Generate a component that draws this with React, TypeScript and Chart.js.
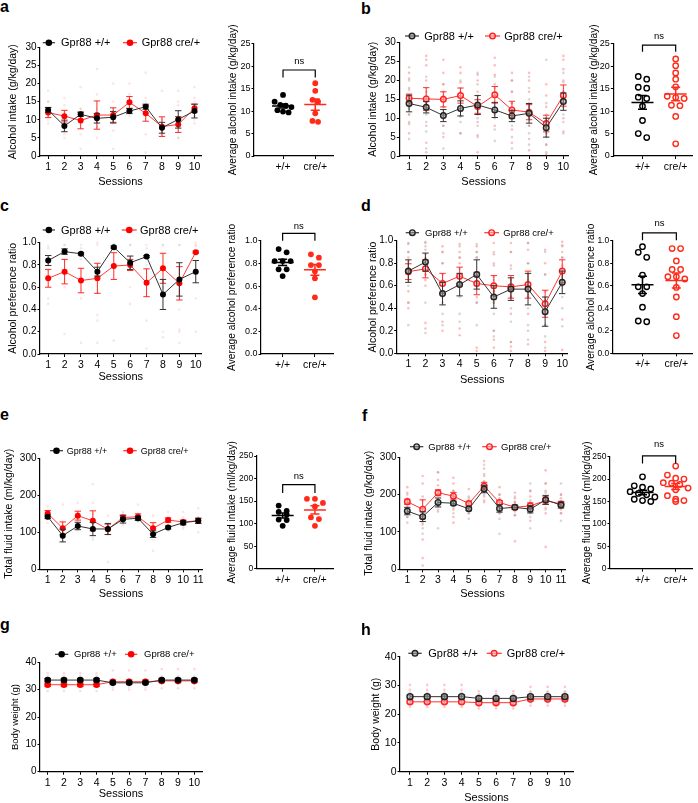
import React, { useEffect, useRef } from "react";
import { Chart, registerables } from "chart.js";

Chart.register(...registerables);

const FONT = "'Liberation Sans', Arial, Helvetica, sans-serif";

// ---------------- DATA ----------------
const sessions10 = [1, 2, 3, 4, 5, 6, 7, 8, 9, 10];
const sessions11 = [1, 2, 3, 4, 5, 6, 7, 8, 9, 10, 11];
const groupLabels = ["+/+", "cre/+"];
const seriesLabels = ["Gpr88 +/+", "Gpr88 cre/+"];

// a
const aWtMean = [12.7, 8.3, 11.5, 10.4, 10.7, 12.4, 13.6, 7.8, 10.1, 12.4];
const aWtSem = [0.7, 1.6, 0.6, 1.3, 1.6, 0.7, 0.7, 1.5, 2.4, 1.9];
const aCreMean = [12.0, 11.0, 9.8, 11.3, 11.3, 14.8, 11.8, 8.1, 8.7, 13.2];
const aCreSem = [1.4, 1.6, 2.3, 3.9, 2.0, 1.6, 2.2, 2.7, 2.2, 1.1];
const aWtInd = [[15, 11, 10], [12, 7, 5], [13, 11], [13, 9, 8], [13, 9], [14, 11], [15, 13, 12], [10, 6], [15, 8, 5], [15, 11, 10]];
const aCreInd = [[18, 15, 9], [16, 14, 9, 6], [19, 13, 6, 2], [24, 17, 8, 5], [20, 15, 7, 2], [20, 17, 12], [23, 16, 6, 1], [18, 10, 6], [18, 14, 5], [19, 16, 11, 9]];
const aWtAvg = [13.6, 12.1, 11.4, 11.2, 10.9, 10.2, 9.9, 9.7];
const aCreAvg = [16.2, 14.5, 12.5, 12.1, 9.5, 7.8, 7.6];

// b
const bWtMean = [13.9, 12.9, 10.7, 12.6, 13.5, 12.2, 10.6, 11.3, 7.5, 14.4];
const bWtSem = [2.2, 1.5, 1.6, 2.0, 2.5, 2.0, 1.5, 2.6, 2.5, 2.3];
const bCreMean = [15.3, 15.1, 15.0, 16.0, 13.1, 16.2, 12.2, 11.6, 8.6, 16.0];
const bCreSem = [1.1, 3.0, 2.0, 2.0, 1.8, 2.2, 2.3, 2.0, 2.2, 2.8];
const bWtInd = [
  [23.5, 20, 17.5, 16, 14, 12.5, 11, 9, 4.5], [21, 18, 16, 14, 12.5, 11, 9, 6.5, 2], [19, 16, 13, 11.5, 10, 8, 6, 2],
  [20, 18, 16, 14, 12, 10.5, 9, 6], [22, 19, 16, 14, 12, 10, 8, 5], [21, 18, 16, 14, 12, 10, 7, 4],
  [20, 17, 14, 12, 10, 8, 5, 2], [21, 18, 15, 12, 10, 8, 6, 3], [25.5, 14, 11, 9, 7, 5, 3, 1], [22, 19.5, 17, 15, 13, 11, 9, 6],
];
const bCreInd = [
  [22, 20.5, 18, 16, 15, 13, 11, 8.5, 6], [26.5, 25.5, 24, 20, 17, 15, 12, 8, 3.5, 1], [25.5, 22, 19, 17, 15, 13, 11, 8, 5],
  [23.5, 22, 19.5, 17, 15, 13, 10.5, 6], [21.5, 20, 17, 15, 13, 11, 9, 5.5, 1], [26, 24, 21.5, 19, 16, 13, 11, 8],
  [22, 20, 17, 14, 12, 10, 7, 3.5], [22, 20, 17, 14, 11, 8, 4.5, 1.5], [19, 16, 13, 10, 8, 6, 3, 0.5], [26.5, 25.5, 23, 20, 17, 14, 10, 6.5],
];
const bWtAvg = [17.7, 17.1, 15.3, 15.1, 13.1, 12.8, 11.1, 7.9, 5.0, 4.1];
const bCreAvg = [21.6, 20.1, 18.5, 17.1, 15.4, 13.3, 13.0, 12.8, 11.3, 11.2, 8.8, 2.7];

// c
const cWtMean = [0.84, 0.92, 0.9, 0.74, 0.96, 0.82, 0.875, 0.535, 0.67, 0.74];
const cWtSem = [0.045, 0.025, 0.01, 0.04, 0.01, 0.06, 0.01, 0.135, 0.15, 0.1];
const cCreMean = [0.68, 0.74, 0.66, 0.68, 0.79, 0.8, 0.64, 0.77, 0.635, 0.915];
const cCreSem = [0.08, 0.11, 0.11, 0.135, 0.12, 0.05, 0.125, 0.135, 0.15, 0.01];
const cWtInd = [[0.97, 0.75], [0.98, 0.85], [0.98, 0.85], [0.98, 0.55], [0.99, 0.95], [0.98, 0.6], [0.98, 0.8], [0.98, 0.2], [0.98, 0.4], [0.98, 0.5]];
const cCreInd = [[0.95, 0.45, 0.5], [0.98, 0.18, 0.6], [0.95, 0.1, 0.5], [1.0, 0.35, 0.3, 0.1], [0.98, 0.12], [0.98, 0.45], [0.95, 0.3, 0.05], [0.98, 0.6, 0.15], [0.98, 0.2, 0.22, 0.1], [1.0, 0.97, 0.2]];
const cWtAvg = [0.926, 0.897, 0.82, 0.82, 0.82, 0.747, 0.747, 0.688];
const cCreAvg = [0.88, 0.85, 0.785, 0.785, 0.73, 0.668, 0.5];

// d
const dWtMean = [0.73, 0.81, 0.53, 0.61, 0.7, 0.5, 0.57, 0.57, 0.37, 0.63];
const dWtSem = [0.1, 0.08, 0.1, 0.1, 0.13, 0.1, 0.1, 0.14, 0.13, 0.1];
const dCreMean = [0.725, 0.75, 0.62, 0.685, 0.62, 0.6, 0.59, 0.61, 0.44, 0.73];
const dCreSem = [0.07, 0.08, 0.09, 0.08, 0.1, 0.09, 0.1, 0.12, 0.12, 0.1];
const dWtInd = [
  [0.97, 0.9, 0.82, 0.75, 0.6, 0.45, 0.25], [0.99, 0.95, 0.88, 0.82, 0.7, 0.45, 0.18], [0.9, 0.8, 0.65, 0.55, 0.45, 0.35, 0.25],
  [0.95, 0.85, 0.7, 0.6, 0.5, 0.35, 0.28], [0.97, 0.9, 0.85, 0.7, 0.6, 0.45, 0.25], [0.9, 0.8, 0.65, 0.45, 0.35, 0.2, 0.15],
  [0.9, 0.75, 0.6, 0.5, 0.4, 0.28, 0.1], [0.98, 0.8, 0.65, 0.55, 0.4, 0.25, 0.12], [0.9, 0.7, 0.5, 0.35, 0.25, 0.15, 0.05],
  [0.95, 0.85, 0.75, 0.6, 0.5, 0.4, 0.24],
];
const dCreInd = [
  [0.98, 0.9, 0.85, 0.8, 0.65, 0.55, 0.45, 0.4], [0.98, 0.92, 0.85, 0.7, 0.65, 0.6, 0.27, 0.22], [0.95, 0.9, 0.8, 0.7, 0.55, 0.5, 0.28, 0.2],
  [0.97, 0.9, 0.85, 0.8, 0.75, 0.6, 0.22, 0.16], [0.95, 0.9, 0.85, 0.7, 0.5, 0.45, 0.05, 0.02], [0.98, 0.88, 0.78, 0.68, 0.55, 0.45, 0.2, 0.12, 0.05],
  [0.98, 0.9, 0.78, 0.65, 0.5, 0.35, 0.1, 0.06, 0.02], [0.98, 0.92, 0.8, 0.7, 0.5, 0.35, 0.2, 0.08], [0.92, 0.8, 0.7, 0.55, 0.4, 0.25, 0.1, 0.02],
  [0.99, 0.96, 0.9, 0.85, 0.78, 0.6, 0.3, 0.03],
];
const dWtAvg = [0.947, 0.897, 0.852, 0.695, 0.59, 0.59, 0.53, 0.41, 0.28, 0.287];
const dCreAvg = [0.93, 0.93, 0.82, 0.745, 0.745, 0.68, 0.68, 0.66, 0.585, 0.5, 0.325, 0.157];

// e
const eWtMean = [142, 91, 117, 109, 109, 135, 138, 95, 113, 126, 131];
const eWtSem = [5, 17, 10, 18, 15, 10, 6, 9, 4, 6, 7];
const eCreMean = [151, 111, 145, 131, 108, 140, 142, 111, 133, 128, 131];
const eCreSem = [8, 17, 12, 27, 14, 7, 8, 15, 6, 5, 7];
const eWtInd = [[150, 135], [110, 75], [130, 105], [140, 80], [120, 95], [150, 125], [150, 130], [110, 80], [120, 105], [135, 115], [140, 125]];
const eCreInd = [[170, 140, 125], [175, 130, 95], [180, 155, 130], [230, 180, 150, 85], [145, 115, 95, 20], [155, 130, 120], [175, 150, 130], [145, 110, 90, 50], [155, 140, 120], [155, 140, 120, 110], [165, 140, 100]];
const eWtAvg = [140, 128, 126, 120, 109, 108, 95];
const eCreAvg = [155, 155, 146, 138, 114, 110, 95];

// f
const fWtMean = [156, 141, 179, 177, 162, 215, 163, 166, 161, 186, 172];
const fWtSem = [10, 13, 12, 5, 5, 10, 10, 6, 10, 12, 8];
const fCreMean = [181, 161, 205, 196, 176, 223, 179, 166, 170, 184, 175];
const fCreSem = [7, 25, 8, 10, 5, 10, 5, 5, 8, 10, 7];
const fWtInd = [
  [200, 180, 165, 150, 140, 125], [185, 160, 140, 125, 110, 95], [260, 200, 185, 170, 160, 110], [210, 190, 175, 165, 150],
  [190, 175, 160, 150, 135], [280, 255, 235, 215, 200, 185], [200, 180, 165, 150, 135, 95], [195, 180, 170, 160, 145],
  [230, 210, 185, 160, 140, 110], [230, 205, 190, 175, 160], [230, 200, 180, 165, 150, 130],
];
const fCreInd = [
  [220, 205, 190, 180, 170, 160, 150, 140], [250, 230, 195, 165, 120, 80, 30, 10], [260, 240, 225, 210, 200, 185, 170, 155],
  [245, 230, 210, 195, 180, 160, 140, 125], [215, 195, 185, 175, 165, 150], [290, 270, 250, 235, 220, 210, 195, 180],
  [220, 200, 190, 180, 170, 160, 150], [205, 190, 180, 165, 155, 145, 75], [210, 195, 180, 170, 160, 150, 130],
  [265, 230, 210, 195, 180, 165, 150, 60], [200, 190, 180, 170, 160, 150],
];
const fWtAvg = [205, 185, 182, 178, 172, 168, 165, 160, 155, 152, 150];
const fCreAvg = [229, 209, 202, 200, 192, 191, 188, 180, 176, 163, 155, 152, 150];

// g
const gWtMean = [33.5, 33.5, 33.5, 33.5, 32.5, 32.5, 32.5, 33.5, 33.5, 33.5];
const gWtSem = [0.6, 0.6, 0.6, 0.6, 0.5, 0.5, 0.5, 0.6, 0.6, 0.6];
const gCreMean = [31.8, 31.8, 31.8, 31.8, 32.9, 32.9, 32.9, 33.2, 33.2, 33.2];
const gCreSem = [0.6, 0.6, 0.6, 0.6, 0.6, 0.6, 0.6, 0.6, 0.6, 0.6];
const gWtInd = [[35, 31.5], [35, 31.5], [35, 31.5], [35, 31.5], [34, 31], [34, 31], [34, 31], [35, 32], [35, 32], [35, 32]];
const gCreInd = [[36, 29.5], [36, 29.5], [36, 29.5], [36, 29.5], [37, 30], [37, 30], [37, 30], [37.5, 30.5], [37.5, 30.5], [37.5, 30.5]];

// h
const hWtMean = [26.1, 26.1, 26.1, 26.1, 25.5, 25.5, 25.5, 26.1, 26.1, 26.1];
const hWtSem = [0.6, 0.6, 0.6, 0.6, 0.6, 0.6, 0.6, 0.6, 0.6, 0.6];
const hCreMean = [24.3, 24.3, 24.3, 24.3, 24.0, 24.0, 24.0, 25.3, 25.3, 25.3];
const hCreSem = [0.6, 0.6, 0.6, 0.6, 0.6, 0.6, 0.6, 0.6, 0.6, 0.6];
const hWtInd = [[27.5, 23.5], [27.5, 23.5], [27.5, 23.5], [27.5, 23.5], [27, 23], [27, 23], [27, 23], [28, 24], [28, 24], [28, 24]];
const hCreInd = [[30.2, 28.5, 22.5], [30.2, 28.5, 22.5], [30.2, 28.5, 22.5], [30.2, 28.5, 22.5], [28, 26, 22], [28, 26, 22], [28, 26, 22], [29.5, 27.5, 23], [29.5, 27.5, 23], [29.5, 27.5, 23]];

// ---------------- HELPERS ----------------
type Rect = { L: number; T: number; R: number; B: number };
type Geo = { x: number; y: number; w: number; h: number; wy: number; padTop: number; padRight: number; hx: number };

function geom(r: Rect, leftX: number, bottomY: number, topPad = 22, rightPad = 10): Geo {
  const x = Math.floor(leftX);
  const y = Math.floor(r.T - topPad);
  const x2 = Math.min(698, Math.ceil(r.R + rightPad));
  const y2 = Math.ceil(bottomY);
  return { x, y, w: x2 - x, h: y2 - y, wy: r.L - x, padTop: r.T - y, padRight: x2 - r.R, hx: y2 - r.B };
}

const errorBarPlugin = {
  id: "errorBars",
  beforeDatasetDraw(chart: any, args: any) {
    const ds = chart.data.datasets[args.index];
    if (!ds.err) return;
    const ctx = chart.ctx;
    const ys = chart.scales.y;
    const cap = ds.cap || 3.2;
    ctx.save();
    ctx.strokeStyle = ds.errColor;
    ctx.lineWidth = 1;
    args.meta.data.forEach((pt: any, i: number) => {
      const v = ds.data[i].y;
      const e = ds.err[i];
      const yt = ys.getPixelForValue(v + e);
      const yb = ys.getPixelForValue(v - e);
      ctx.beginPath();
      ctx.moveTo(pt.x, yt); ctx.lineTo(pt.x, yb);
      ctx.moveTo(pt.x - cap, yt); ctx.lineTo(pt.x + cap, yt);
      ctx.moveTo(pt.x - cap, yb); ctx.lineTo(pt.x + cap, yb);
      ctx.stroke();
    });
    ctx.restore();
  },
};

function legendPlugin(o: any) {
  return {
    id: "gLegend",
    afterDraw(chart: any) {
      const ctx = chart.ctx;
      ctx.save();
      o.items.forEach((it: any) => {
        const x0 = it.x0 - o.ox, x1 = it.x1 - o.ox, y = o.y - o.oy;
        const cx = (x0 + x1) / 2;
        ctx.strokeStyle = it.line; ctx.lineWidth = 1.2;
        ctx.beginPath(); ctx.moveTo(x0, y); ctx.lineTo(x1, y); ctx.stroke();
        ctx.beginPath(); ctx.arc(cx, y, o.r, 0, Math.PI * 2);
        if (o.open) {
          ctx.fillStyle = it.fill; ctx.fill();
          ctx.lineWidth = 1.4; ctx.strokeStyle = it.color; ctx.stroke();
        } else {
          ctx.fillStyle = it.color; ctx.fill();
        }
        ctx.fillStyle = "#000";
        ctx.font = `${o.font}px ${FONT}`;
        ctx.textBaseline = "middle"; ctx.textAlign = "left";
        ctx.fillText(it.label, it.tx - o.ox, y + 0.5);
      });
      ctx.restore();
    },
  };
}

function meanSemPlugin(groups: { center: number; values: number[]; color: string }[]) {
  return {
    id: "meanSem",
    afterDatasetsDraw(chart: any) {
      const { ctx, scales } = chart;
      ctx.save();
      ctx.lineWidth = 1.5;
      groups.forEach((g) => {
        const n = g.values.length;
        const m = g.values.reduce((a, b) => a + b, 0) / n;
        const sd = Math.sqrt(g.values.reduce((a, b) => a + (b - m) * (b - m), 0) / (n - 1));
        const se = sd / Math.sqrt(n);
        const cx = scales.x.getPixelForValue(g.center);
        const ym = scales.y.getPixelForValue(m);
        const yt = scales.y.getPixelForValue(m + se);
        const yb = scales.y.getPixelForValue(m - se);
        ctx.strokeStyle = g.color;
        ctx.beginPath();
        ctx.moveTo(cx - 11, ym); ctx.lineTo(cx + 11, ym);
        ctx.moveTo(cx, yt); ctx.lineTo(cx, yb);
        ctx.moveTo(cx - 4.5, yt); ctx.lineTo(cx + 4.5, yt);
        ctx.moveTo(cx - 4.5, yb); ctx.lineTo(cx + 4.5, yb);
        ctx.stroke();
      });
      ctx.restore();
    },
  };
}

function bracketPlugin(b: { top: number; leg: number; ns: number }) {
  return {
    id: "bracket",
    afterDraw(chart: any) {
      const { ctx, scales } = chart;
      const x1 = scales.x.getPixelForValue(1), x2 = scales.x.getPixelForValue(2);
      const yt = scales.y.getPixelForValue(b.top), yl = scales.y.getPixelForValue(b.leg);
      const yn = scales.y.getPixelForValue(b.ns);
      ctx.save();
      ctx.strokeStyle = "#000"; ctx.lineWidth = 1.2;
      ctx.beginPath();
      ctx.moveTo(x1, yl); ctx.lineTo(x1, yt); ctx.lineTo(x2, yt); ctx.lineTo(x2, yl);
      ctx.stroke();
      ctx.fillStyle = "#000"; ctx.font = `9.5px ${FONT}`;
      ctx.textAlign = "center"; ctx.textBaseline = "middle";
      ctx.fillText("ns", (x1 + x2) / 2, yn);
      ctx.restore();
    },
  };
}

function swarm(values: number[], center: number, pxX: number, pxY: number, bin: number, spacing: number) {
  const sorted = [...values].sort((a, b) => b - a);
  const rows: number[][] = [];
  let cur: number[] = [];
  let start = 0;
  sorted.forEach((v) => {
    if (cur.length && (start - v) * pxY < bin) cur.push(v);
    else { if (cur.length) rows.push(cur); cur = [v]; start = v; }
  });
  if (cur.length) rows.push(cur);
  const out: { x: number; y: number }[] = [];
  rows.forEach((row) => row.forEach((v, k) => out.push({ x: center + ((k - (row.length - 1) / 2) * spacing) / pxX, y: v })));
  return out;
}

function yScale(g: Geo, yMax: number, step: number, dec: number, title: string, titleSize: number, tickSize: number) {
  return {
    type: "linear", min: 0, max: yMax,
    afterFit: (s: any) => { s.width = g.wy; },
    afterBuildTicks: (s: any) => {
      const t: any[] = [];
      for (let i = 0; i * step <= yMax + 1e-9; i++) t.push({ value: +(i * step).toFixed(6) });
      s.ticks = t;
    },
    ticks: { color: "#000", font: { family: FONT, size: tickSize }, padding: 1, callback: (v: number) => Number(v).toFixed(dec) },
    grid: { drawOnChartArea: false, drawTicks: true, tickLength: 2.5, color: "#000", lineWidth: 1 },
    border: { display: true, color: "#000", width: 1.2 },
    title: { display: true, text: title, color: "#000", font: { family: FONT, size: titleSize }, padding: 0 },
  };
}

// ---------------- PANEL SPECS ----------------
type LineSpec = {
  rect: Rect; yTitleX: number; xTitleY: number; xMin: number; xMax: number; sessions: number[];
  yMax: number; yStep: number; dec: number; yTitle: string; titleSize: number; tickSize: number;
  wtMean: number[]; wtSem: number[]; creMean: number[]; creSem: number[];
  wtInd: number[][]; creInd: number[][]; indAlpha: number; open: boolean; markerR: number;
  legend: { y: number; font: number; items: number[][] };
};

type ScatSpec = {
  rect: Rect; yTitleX: number; xMin: number; xMax: number; yMax: number; yStep: number; dec: number;
  yTitle: string; titleSize: number; tickSize: number; wt: number[]; cre: number[]; open: boolean;
  r: number; spacing: number; bracket: { top: number; leg: number; ns: number };
};

const X_TICK = 10.5;

const lineSpecs: LineSpec[] = [
  {
    rect: { L: 40, T: 47.3, R: 201, B: 156 }, yTitleX: 14, xTitleY: 181.7, xMin: 0.5, xMax: 10.4, sessions: sessions10,
    yMax: 30, yStep: 5, dec: 0, yTitle: "Alcohol intake (g/kg/day)", titleSize: 10.5, tickSize: 10,
    wtMean: aWtMean, wtSem: aWtSem, creMean: aCreMean, creSem: aCreSem, wtInd: aWtInd, creInd: aCreInd, indAlpha: 0.15,
    open: false, markerR: 3, legend: { y: 42.7, font: 11, items: [[42.7, 55, 61], [123, 137, 141.7]] },
  },
  {
    rect: { L: 399.3, T: 42.7, R: 568, B: 156 }, yTitleX: 373.3, xTitleY: 181.7, xMin: 0.43, xMax: 10.27, sessions: sessions10,
    yMax: 30, yStep: 5, dec: 0, yTitle: "Alcohol intake (g/kg/day)", titleSize: 10.5, tickSize: 10,
    wtMean: bWtMean, wtSem: bWtSem, creMean: bCreMean, creSem: bCreSem, wtInd: bWtInd, creInd: bCreInd, indAlpha: 0.35,
    open: true, markerR: 2.8, legend: { y: 36, font: 11, items: [[405, 419, 424.3], [485, 500, 504.3]] },
  },
  {
    rect: { L: 40, T: 242.7, R: 201.5, B: 354 }, yTitleX: 13.3, xTitleY: 376.7, xMin: 0.5, xMax: 10.35, sessions: sessions10,
    yMax: 1, yStep: 0.2, dec: 1, yTitle: "Alcohol preference ratio", titleSize: 10.5, tickSize: 10,
    wtMean: cWtMean, wtSem: cWtSem, creMean: cCreMean, creSem: cCreSem, wtInd: cWtInd, creInd: cCreInd, indAlpha: 0.15,
    open: false, markerR: 3, legend: { y: 230, font: 11, items: [[42.7, 55, 61], [121.7, 136.7, 140]] },
  },
  {
    rect: { L: 396.7, T: 240.7, R: 567.7, B: 353.3 }, yTitleX: 373.3, xTitleY: 380, xMin: 0.32, xMax: 10.32, sessions: sessions10,
    yMax: 1, yStep: 0.2, dec: 1, yTitle: "Alcohol preference ratio", titleSize: 10.5, tickSize: 10,
    wtMean: dWtMean, wtSem: dWtSem, creMean: dCreMean, creSem: dCreSem, wtInd: dWtInd, creInd: dCreInd, indAlpha: 0.35,
    open: true, markerR: 2.8, legend: { y: 232.7, font: 9.5, items: [[405.7, 419, 425], [484.3, 499, 503.3]] },
  },
  {
    rect: { L: 40, T: 458.3, R: 202, B: 569.3 }, yTitleX: 10, xTitleY: 594, xMin: 0.49, xMax: 11.25, sessions: sessions11,
    yMax: 300, yStep: 100, dec: 0, yTitle: "Total fluid intake (ml/kg/day)", titleSize: 10.5, tickSize: 10,
    wtMean: eWtMean, wtSem: eWtSem, creMean: eCreMean, creSem: eCreSem, wtInd: eWtInd, creInd: eCreInd, indAlpha: 0.15,
    open: false, markerR: 3, legend: { y: 450.7, font: 9, items: [[50, 63, 66.7], [123.3, 136.7, 140.7]] },
  },
  {
    rect: { L: 400, T: 457.3, R: 565, B: 569.3 }, yTitleX: 370, xTitleY: 594, xMin: 0.525, xMax: 11.26, sessions: sessions11,
    yMax: 300, yStep: 100, dec: 0, yTitle: "Total fluid intake (g/kg/day)", titleSize: 10.5, tickSize: 10,
    wtMean: fWtMean, wtSem: fWtSem, creMean: fCreMean, creSem: fCreSem, wtInd: fWtInd, creInd: fCreInd, indAlpha: 0.35,
    open: true, markerR: 2.8, legend: { y: 446.7, font: 9.5, items: [[410, 423.3, 428.3], [482.3, 496.7, 501]] },
  },
  {
    rect: { L: 40, T: 662.3, R: 202, B: 771.7 }, yTitleX: 16, xTitleY: 794, xMin: 0.53, xMax: 10.47, sessions: sessions10,
    yMax: 40, yStep: 10, dec: 0, yTitle: "Body weight (g)", titleSize: 9.5, tickSize: 10,
    wtMean: gWtMean, wtSem: gWtSem, creMean: gCreMean, creSem: gCreSem, wtInd: gWtInd, creInd: gCreInd, indAlpha: 0.2,
    open: false, markerR: 3.3, legend: { y: 654.3, font: 9.5, items: [[55, 68.3, 74], [125, 137.3, 144]] },
  },
  {
    rect: { L: 400, T: 656.7, R: 573, B: 771.7 }, yTitleX: 376.7, xTitleY: 798.3, xMin: 0.42, xMax: 10.47, sessions: sessions10,
    yMax: 40, yStep: 10, dec: 0, yTitle: "Body weight (g)", titleSize: 10.5, tickSize: 10.5,
    wtMean: hWtMean, wtSem: hWtSem, creMean: hCreMean, creSem: hCreSem, wtInd: hWtInd, creInd: hCreInd, indAlpha: 0.3,
    open: true, markerR: 3, legend: { y: 653.3, font: 11, items: [[408.3, 421.7, 428.3], [486.7, 501.7, 506.7]] },
  },
];

const scatSpecs: ScatSpec[] = [
  {
    rect: { L: 254, T: 43.7, R: 333, B: 156 }, yTitleX: 234, xMin: 0.1, xMax: 2.55, yMax: 25, yStep: 5, dec: 0,
    yTitle: "Average alcohol intake (g/kg/day)", titleSize: 10.2, tickSize: 9, wt: aWtAvg, cre: aCreAvg, open: false,
    r: 2.9, spacing: 5.6, bracket: { top: 19.15, leg: 17.5, ns: 21 },
  },
  {
    rect: { L: 613.3, T: 43.7, R: 693, B: 156 }, yTitleX: 594.5, xMin: 0.12, xMax: 2.51, yMax: 25, yStep: 5, dec: 0,
    yTitle: "Average alcohol intake (g/kg/day)", titleSize: 10.2, tickSize: 9, wt: bWtAvg, cre: bCreAvg, open: true,
    r: 2.7, spacing: 8.5, bracket: { top: 24.7, leg: 23.2, ns: 26.7 },
  },
  {
    rect: { L: 261, T: 240.7, R: 333, B: 354 }, yTitleX: 233, xMin: 0.33, xMax: 2.56, yMax: 1, yStep: 0.2, dec: 1,
    yTitle: "Average alcohol preference ratio", titleSize: 10.2, tickSize: 9, wt: cWtAvg, cre: cCreAvg, open: false,
    r: 2.9, spacing: 8, bracket: { top: 1.065, leg: 1.0, ns: 1.13 },
  },
  {
    rect: { L: 612.7, T: 240.7, R: 693, B: 353.3 }, yTitleX: 592, xMin: 0.12, xMax: 2.48, yMax: 1, yStep: 0.2, dec: 1,
    yTitle: "Average alcohol preference ratio", titleSize: 10.2, tickSize: 8.5, wt: dWtAvg, cre: dCreAvg, open: true,
    r: 2.7, spacing: 8.5, bracket: { top: 1.07, leg: 1.005, ns: 1.15 },
  },
  {
    rect: { L: 256.7, T: 456, R: 333, B: 568.7 }, yTitleX: 233, xMin: 0.195, xMax: 2.56, yMax: 250, yStep: 50, dec: 0,
    yTitle: "Average fluid intake (ml/kg/day)", titleSize: 10.2, tickSize: 8.5, wt: eWtAvg, cre: eCreAvg, open: false,
    r: 2.9, spacing: 8, bracket: { top: 186.4, leg: 168, ns: 204.8 },
  },
  {
    rect: { L: 610, T: 456.7, R: 693, B: 568.7 }, yTitleX: 587.5, xMin: 0.02, xMax: 2.51, yMax: 250, yStep: 50, dec: 0,
    yTitle: "Average fluid intake (ml/kg/day)", titleSize: 10.2, tickSize: 8.5, wt: fWtAvg, cre: fCreAvg, open: true,
    r: 2.7, spacing: 8.3, bracket: { top: 252, leg: 235, ns: 278 },
  },
];

const panelLabels = [
  { t: "a", x: 0, y: -0.8 }, { t: "b", x: 361, y: 0.5 }, { t: "c", x: 0, y: 198.2 }, { t: "d", x: 361, y: 198.2 },
  { t: "e", x: 0, y: 406.5 }, { t: "f", x: 362, y: 408.2 }, { t: "g", x: 0, y: 616.5 }, { t: "h", x: 361, y: 621.5 },
];

// ---------------- CONFIG BUILDERS ----------------
function lineConfig(s: LineSpec, g: Geo) {
  const wtColor = s.open ? "#222" : "#000";
  const creColor = s.open ? "#ff2020" : "#ff0000";
  const ind = (arr: number[][]) => arr.flatMap((vals, i) => vals.map((v) => ({ x: s.sessions[i], y: v })));
  const datasets: any[] = [
    { type: "scatter", data: ind(s.creInd), pointRadius: 1.3, pointBackgroundColor: `rgba(255,70,70,${s.indAlpha})`, pointBorderWidth: 0, order: 6, clip: false },
    { type: "scatter", data: ind(s.wtInd), pointRadius: 1.3, pointBackgroundColor: `rgba(140,140,140,${s.indAlpha})`, pointBorderWidth: 0, order: 5, clip: false },
    {
      type: "line", label: seriesLabels[1], data: s.sessions.map((x, i) => ({ x, y: s.creMean[i] })), err: s.creSem, errColor: s.open ? "#ff3030" : "#ff2a2a",
      borderColor: s.open ? "#ff3030" : "#ff3a3a", borderWidth: 1, tension: 0, fill: false, pointRadius: s.markerR,
      pointBackgroundColor: s.open ? "rgba(255,190,190,0.55)" : creColor, pointBorderColor: creColor, pointBorderWidth: s.open ? 1.4 : 0, order: 2, clip: false,
    },
    {
      type: "line", label: seriesLabels[0], data: s.sessions.map((x, i) => ({ x, y: s.wtMean[i] })), err: s.wtSem, errColor: "#333",
      borderColor: "#333", borderWidth: 1, tension: 0, fill: false, pointRadius: s.markerR,
      pointBackgroundColor: s.open ? "rgba(150,150,150,0.55)" : wtColor, pointBorderColor: wtColor, pointBorderWidth: s.open ? 1.4 : 0, order: 1, clip: false,
    },
  ];
  const legend = legendPlugin({
    ox: g.x, oy: g.y, y: s.legend.y, font: s.legend.font, open: s.open, r: s.open ? 2.8 : 3.3,
    items: [
      { x0: s.legend.items[0][0], x1: s.legend.items[0][1], tx: s.legend.items[0][2], label: seriesLabels[0], color: wtColor, line: "#333", fill: "rgba(150,150,150,0.55)" },
      { x0: s.legend.items[1][0], x1: s.legend.items[1][1], tx: s.legend.items[1][2], label: seriesLabels[1], color: creColor, line: "#ff3030", fill: "rgba(255,190,190,0.55)" },
    ],
  });
  return {
    type: "line",
    data: { datasets },
    options: {
      responsive: false, animation: false, devicePixelRatio: 1,
      layout: { padding: { top: g.padTop, right: g.padRight, left: 0, bottom: 0 } },
      plugins: { legend: { display: false }, tooltip: { enabled: false } },
      scales: {
        x: {
          type: "linear", min: s.xMin, max: s.xMax,
          afterFit: (sc: any) => { sc.height = g.hx; },
          afterBuildTicks: (sc: any) => { sc.ticks = s.sessions.map((v) => ({ value: v })); },
          ticks: { color: "#000", font: { family: FONT, size: X_TICK }, padding: 2, maxRotation: 0, autoSkip: false, callback: (v: number) => String(v) },
          grid: { drawOnChartArea: false, drawTicks: true, tickLength: 3, color: "#000", lineWidth: 1 },
          border: { display: true, color: "#000", width: 1.2 },
          title: { display: true, text: "Sessions", color: "#000", font: { family: FONT, size: 11 }, padding: 0 },
        },
        y: yScale(g, s.yMax, s.yStep, s.dec, s.yTitle, s.titleSize, s.tickSize),
      },
    },
    plugins: [errorBarPlugin, legend],
  };
}

function scatConfig(s: ScatSpec, g: Geo) {
  const black = "#000";
  const red = "#ff2a1a";
  const pxX = (s.rect.R - s.rect.L) / (s.xMax - s.xMin);
  const pxY = (s.rect.B - s.rect.T) / s.yMax;
  const wtPts = swarm(s.wt, 1, pxX, pxY, 5.5, s.spacing);
  const crePts = swarm(s.cre, 2, pxX, pxY, 5.5, s.spacing);
  return {
    type: "scatter",
    data: {
      datasets: [
        { data: crePts, pointRadius: s.r, pointBackgroundColor: s.open ? "rgba(255,255,255,0)" : red, pointBorderColor: red, pointBorderWidth: s.open ? 1.4 : 0, clip: false },
        { data: wtPts, pointRadius: s.r, pointBackgroundColor: s.open ? "rgba(255,255,255,0)" : black, pointBorderColor: black, pointBorderWidth: s.open ? 1.4 : 0, clip: false },
      ],
    },
    options: {
      responsive: false, animation: false, devicePixelRatio: 1,
      layout: { padding: { top: g.padTop, right: g.padRight, left: 0, bottom: 0 } },
      plugins: { legend: { display: false }, tooltip: { enabled: false } },
      scales: {
        x: {
          type: "linear", min: s.xMin, max: s.xMax,
          afterFit: (sc: any) => { sc.height = g.hx; },
          afterBuildTicks: (sc: any) => { sc.ticks = [{ value: 1 }, { value: 2 }]; },
          ticks: { color: "#000", font: { family: FONT, size: X_TICK }, padding: 2, maxRotation: 0, autoSkip: false, callback: (v: number) => groupLabels[Math.round(v) - 1] },
          grid: { drawOnChartArea: false, drawTicks: true, tickLength: 3, color: "#000", lineWidth: 1 },
          border: { display: true, color: "#000", width: 1.2 },
        },
        y: yScale(g, s.yMax, s.yStep, s.dec, s.yTitle, s.titleSize, s.tickSize),
      },
    },
    plugins: [
      meanSemPlugin([
        { center: 1, values: s.wt, color: black },
        { center: 2, values: s.cre, color: red },
      ]),
      bracketPlugin(s.bracket),
    ],
  };
}

// ---------------- COMPONENTS ----------------
function ChartCanvas({ geo, build }: { geo: Geo; build: () => any }) {
  const ref = useRef<HTMLCanvasElement | null>(null);
  useEffect(() => {
    if (!ref.current) return;
    const chart = new Chart(ref.current, build());
    return () => chart.destroy();
  }, []);
  return (
    <canvas
      ref={ref}
      width={geo.w}
      height={geo.h}
      style={{ position: "absolute", left: geo.x, top: geo.y, width: geo.w, height: geo.h }}
    />
  );
}

export default function App() {
  const items: React.ReactNode[] = [];
  lineSpecs.forEach((s, i) => {
    const lh = s.titleSize * 1.2;
    const g = geom(s.rect, s.yTitleX - lh / 2, s.xTitleY + 6.6);
    items.push(<ChartCanvas key={"l" + i} geo={g} build={() => lineConfig(s, g)} />);
  });
  scatSpecs.forEach((s, i) => {
    const lh = s.titleSize * 1.2;
    const g = geom(s.rect, s.yTitleX - lh / 2, s.rect.B + 22, 26, 5);
    items.push(<ChartCanvas key={"s" + i} geo={g} build={() => scatConfig(s, g)} />);
  });
  return (
    <div style={{ position: "absolute", left: 0, top: 0, width: 698, height: 803, background: "#fff", overflow: "hidden" }}>
      {items}
      {panelLabels.map((p) => (
        <div
          key={p.t}
          style={{ position: "absolute", left: p.x, top: p.y, fontFamily: FONT, fontWeight: "bold", fontSize: 16, lineHeight: "16px", color: "#000" }}
        >
          {p.t}
        </div>
      ))}
    </div>
  );
}
